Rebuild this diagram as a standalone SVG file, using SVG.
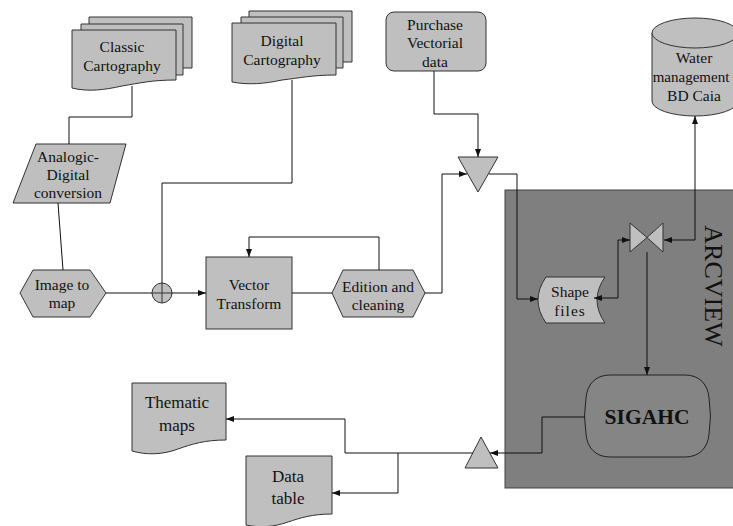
<svg xmlns="http://www.w3.org/2000/svg" width="733" height="526" viewBox="0 0 733 526" font-family="'Liberation Serif', 'DejaVu Serif', serif">
<defs>
<marker id="ah" viewBox="0 0 8 6" refX="8" refY="3" markerWidth="8" markerHeight="6" markerUnits="userSpaceOnUse" orient="auto-start-reverse"><path d="M0,0 L8,3 L0,6 Z" fill="#111"/></marker>
</defs>
<style>
.n{fill:#bfbfbf;stroke:#333;stroke-width:1}
text{font-family:'Liberation Serif','DejaVu Serif',serif}
.t{font-size:15.5px;fill:#111;text-anchor:middle}
.tb{font-size:17px}
.c{fill:none;stroke:#111;stroke-width:1}
.a{marker-end:url(#ah)}
.b{marker-start:url(#ah);marker-end:url(#ah)}
</style>
<rect width="733" height="526" fill="#fff"/>
<g id="arcview">
<rect x="505" y="190" width="240" height="298" fill="#7f7f7f" stroke="#444"/>
<text class="t" transform="translate(705,286) rotate(90)" style="font-size:26px">ARCVIEW</text>
</g>
<g id="classic">
<path class="n" d="M89,17 H192 V68 H89 Z"/>
<path class="n" d="M81,24 H183 V75 H81 Z"/>
<path class="n" d="M72,30 H176 V80 C152,80 140,83 122,86 C104,90 88,92 72,88 Z"/>
<text class="t" x="122" y="52">Classic</text>
<text class="t" x="122" y="71">Cartography</text>
</g>
<g id="digital">
<path class="n" d="M249,11 H352 V62 H249 Z"/>
<path class="n" d="M241,17 H343 V68 H241 Z"/>
<path class="n" d="M232,23 H336 V75 C312,75 300,78 282,80 C264,84 248,85 232,82 Z"/>
<text class="t" x="282" y="46">Digital</text>
<text class="t" x="282" y="65">Cartography</text>
</g>
<g id="purchase">
<rect class="n" x="386" y="12" width="100" height="59" rx="8"/>
<text class="t" x="435" y="30">Purchase</text>
<text class="t" x="435" y="48">Vectorial</text>
<text class="t" x="435" y="67">data</text>
</g>
<g id="water">
<path class="n" d="M652,33 V101 A43,15 0 0 0 738,101 V33 Z"/>
<ellipse class="n" cx="695" cy="33" rx="43" ry="15"/>
<text class="t" x="694" y="63">Water</text>
<text class="t" x="691" y="82" style="font-size:15px">management</text>
<text class="t" x="694" y="101">BD Caia</text>
</g>
<g id="analogic">
<path class="n" d="M36,144 H126 L110,203 H13 Z"/>
<text class="t" x="68" y="162">Analogic-</text>
<text class="t" x="68" y="180">Digital</text>
<text class="t" x="68" y="198">conversion</text>
</g>
<g id="image">
<path class="n" d="M20,293 L33,270 H90 L106,293 L90,317 H33 Z"/>
<text class="t" x="62" y="290">Image to</text>
<text class="t" x="62" y="308">map</text>
</g>
<g id="junction">
<circle class="n" cx="162" cy="293" r="10"/>
<path d="M152,293 H172 M162,283 V303" stroke="#333" fill="none"/>
</g>
<g id="vector">
<rect class="n" x="206" y="257" width="86" height="72"/>
<text class="t" x="249" y="290">Vector</text>
<text class="t" x="249" y="309">Transform</text>
</g>
<g id="edition">
<path class="n" d="M332,293 L343,270 H413 L425,293 L413,317 H343 Z"/>
<text class="t" x="378" y="292">Edition and</text>
<text class="t" x="378" y="310">cleaning</text>
</g>
<g id="merge">
<path class="n" d="M458,157 H498 L478,192 Z"/>
</g>
<g id="shape">
<path class="n" d="M546,277 H605 Q589,300 605,323 H546 Q530,300 546,277 Z"/>
<text class="t" x="570" y="297">Shape</text>
<text class="t" x="570" y="316" style="letter-spacing:1px">files</text>
</g>
<g id="collate">
<path class="n" d="M630,223 L647,237.5 L630,252 Z"/>
<path class="n" d="M663,223 L647,237.5 L663,252 Z"/>
</g>
<g id="sigahc">
<path d="M610,375 H685 C700,375 708,385 709,398 Q712,416 709,434 C708,447 700,457 685,457 H610 C595,457 587,447 586,434 Q583,416 586,398 C587,385 595,375 610,375 Z" fill="#858585" stroke="#222"/>
<text class="t" x="647" y="424" style="font-size:21.5px;font-weight:bold">SIGAHC</text>
</g>
<g id="extract">
<path class="n" d="M481,437 L498,468 H465 Z"/>
</g>
<g id="thematic">
<path class="n" d="M132,383 H226 V440 C205,440 192,444 178,449 C162,455 146,455 132,451 Z"/>
<text class="t tb" x="177" y="408">Thematic</text>
<text class="t tb" x="177" y="431">maps</text>
</g>
<g id="datatable">
<path class="n" d="M246,456 H332 V514 C312,514 300,518 288,522 C274,527 260,528 246,525 Z"/>
<text class="t tb" x="288" y="482">Data</text>
<text class="t tb" x="288" y="504">table</text>
</g>
<g id="connectors">
<path class="c" d="M132,86 V117 H69 V144"/>
<path class="c" d="M58,203 L63,270"/>
<path class="c" d="M106,293 H152"/>
<path class="c" d="M292,80 V183 H162 V283"/>
<path class="c a" d="M172,293 H206"/>
<path class="c" d="M292,293 H332"/>
<path class="c a" d="M379,270 V237 H249 V257"/>
<path class="c a" d="M425,293 H442 V174 H467"/>
<path class="c a" d="M434,71 V114 H478 V157"/>
<path class="c a" d="M489,174 H517 V299 H538"/>
<path class="c b" d="M594,298 H618 V240 H630"/>
<path class="c b" d="M664,240 H695 V116"/>
<path class="c a" d="M647,252 V375"/>
<path class="c a" d="M585,417 H542 V453 H490"/>
<path class="c a" d="M473,453 H345 V419 H226"/>
<path class="c a" d="M398,453 V493 H332"/>
</g>
</svg>
